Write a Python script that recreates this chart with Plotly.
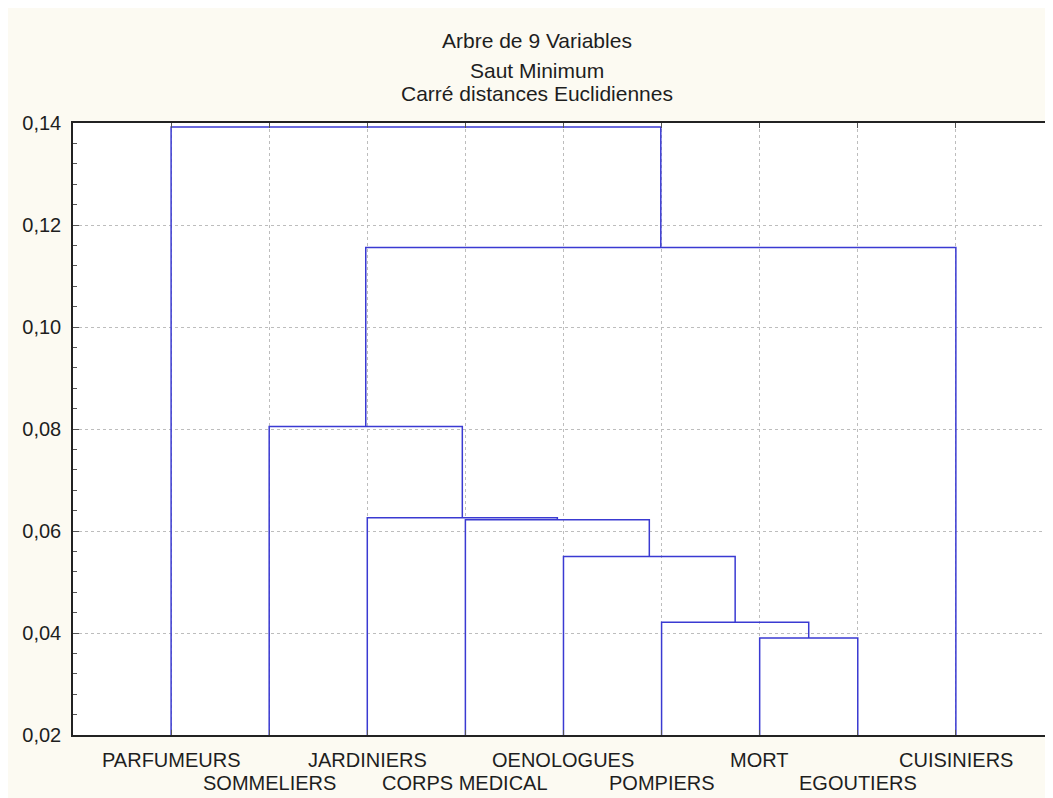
import plotly.graph_objects as go

# Leaves in dendrogram order
labels = ["PARFUMEURS", "SOMMELIERS", "JARDINIERS", "CORPS MEDICAL", "OENOLOGUES",
          "POMPIERS", "MORT", "EGOUTIERS", "CUISINIERS"]
# Merges: (left member, right member, linkage distance); members are leaf names or "c<k>"
merge_left = ["MORT", "POMPIERS", "OENOLOGUES", "CORPS MEDICAL", "JARDINIERS", "SOMMELIERS", "c6", "PARFUMEURS"]
merge_right = ["EGOUTIERS", "c1", "c2", "c3", "c4", "c5", "CUISINIERS", "c7"]
merge_height = [0.0390, 0.0421, 0.0550, 0.0622, 0.0626, 0.0805, 0.1156, 0.1392]

y_ticks = [0.02, 0.04, 0.06, 0.08, 0.10, 0.12, 0.14]
title_lines = ["Arbre de 9 Variables", "Saut Minimum", "Carré distances Euclidiennes"]

base = 0.02
pos = {name: (i + 1, base) for i, name in enumerate(labels)}
xs, ys = [], []
for k, (a, b, h) in enumerate(zip(merge_left, merge_right, merge_height), start=1):
    xa, ha = pos[a]
    xb, hb = pos[b]
    xs += [xa, xa, xb, xb, None]
    ys += [ha, h, h, hb, None]
    pos["c%d" % k] = ((xa + xb) / 2, h)

FONT = "Liberation Sans, Arial, sans-serif"
TXT = "#1e1e1e"
fig = go.Figure()
fig.add_trace(go.Scatter(x=xs, y=ys, mode="lines",
                         line=dict(color="#3a3ad2", width=1.5),
                         hoverinfo="skip", showlegend=False))

fig.update_layout(
    width=1053, height=798,
    margin=dict(l=65, r=9, t=115, b=71, autoexpand=False),
    paper_bgcolor="#FCFAF2", plot_bgcolor="white",
    separators=", ",
    font=dict(family=FONT, size=20, color=TXT),
    showlegend=False,
)
fig.update_xaxes(range=[0, 9.98], tickmode="array", tickvals=list(range(1, 10)),
                 showticklabels=False, automargin=False,
                 showline=True, linecolor="#222", linewidth=1.5, mirror="ticks",
                 ticks="inside", ticklen=5, tickcolor="#555",
                 showgrid=True, gridcolor="#BDBDBD", griddash="dot", gridwidth=1,
                 zeroline=False)
fig.update_yaxes(range=[0.02, 0.14], tickmode="array", tickvals=y_ticks,
                 tickformat=".2f", automargin=False, ticklabelstandoff=6,
                 showline=True, linecolor="#222", linewidth=1.5, mirror="ticks",
                 ticks="inside", ticklen=6, tickcolor="#555",
                 minor=dict(dtick=0.004, ticks="inside", ticklen=4, tickcolor="#555", showgrid=False),
                 showgrid=True, gridcolor="#BDBDBD", griddash="dot", gridwidth=1,
                 zeroline=False, tickfont=dict(family=FONT, size=20, color=TXT))

# category labels in two staggered rows under the axis
for i, t in enumerate(labels):
    fig.add_annotation(text=t, xref="x", yref="paper", x=i + 1,
                       y=-0.041 if i % 2 == 0 else -0.079,
                       xanchor="center", yanchor="middle", showarrow=False,
                       font=dict(family=FONT, size=20, color=TXT))

title_y_px = [40, 70, 94]
for txt, ypx in zip(title_lines, title_y_px):
    fig.add_annotation(text=txt, xref="paper", yref="paper",
                       x=(537 - 73) / 979, y=(735 - ypx) / 612,
                       xanchor="center", yanchor="middle", showarrow=False,
                       font=dict(family=FONT, size=21, color=TXT))

fig.write_html("out.html")
